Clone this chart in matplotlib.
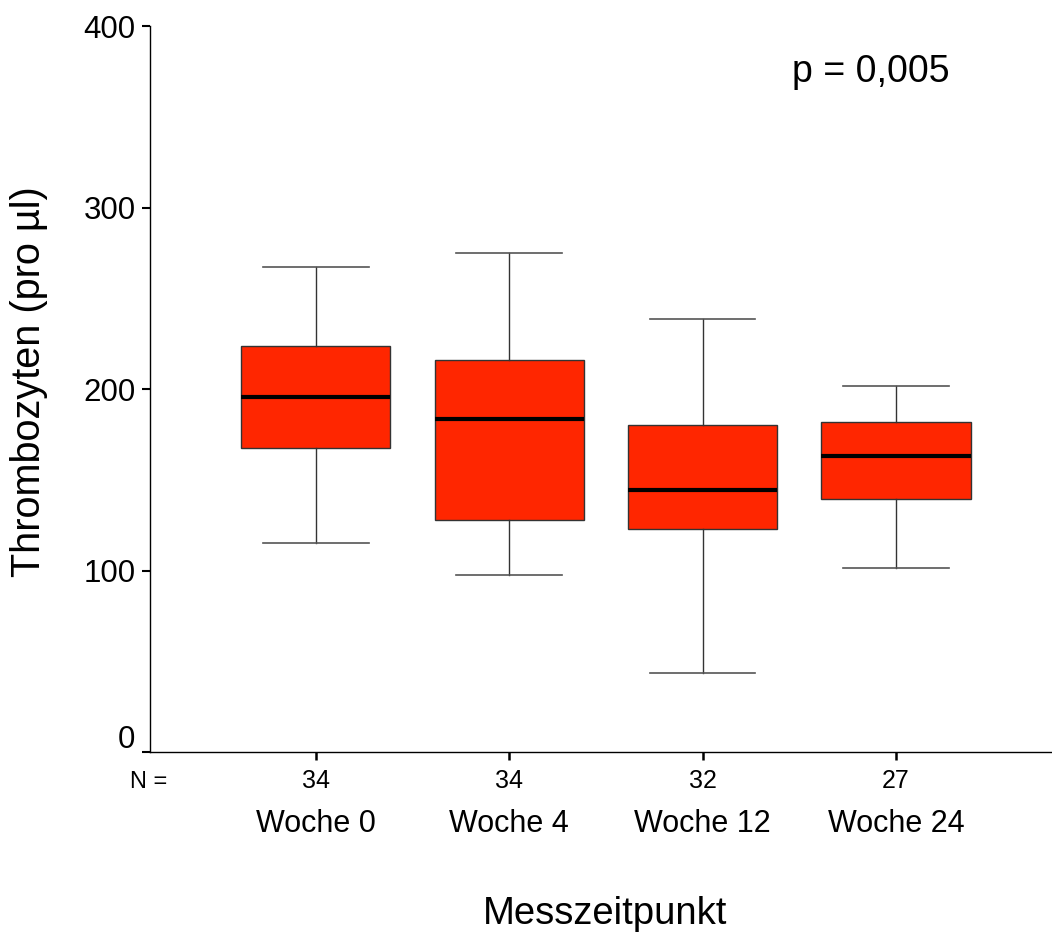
import matplotlib.pyplot as plt
from matplotlib.transforms import ScaledTranslation

plt.rcParams['font.family'] = ['Liberation Sans', 'DejaVu Sans']

# Daten
gruppen = ["Woche 0", "Woche 4", "Woche 12", "Woche 24"]
n_werte = [34, 34, 32, 27]
whisker_unten = [115.5, 97.5, 43.9, 101.7]
q1 = [167.7, 128.0, 122.9, 139.7]
median = [195.6, 183.5, 144.5, 163.1]
q3 = [223.9, 216.1, 180.2, 182.1]
whisker_oben = [267.0, 274.9, 238.6, 202.0]
p_text = "p = 0,005"

positionen = [1, 2, 3, 4]

stats = []
for i, name in enumerate(gruppen):
    stats.append({
        "label": str(n_werte[i]),
        "whislo": whisker_unten[i],
        "q1": q1[i],
        "med": median[i],
        "q3": q3[i],
        "whishi": whisker_oben[i],
        "fliers": [],
    })

fig = plt.figure(figsize=(10.52, 9.41), dpi=100)
ax = fig.add_axes([150 / 1052, 1 - 752.3 / 941, 901 / 1052, 726.3 / 941])

ax.bxp(stats, positions=positionen, widths=0.772, capwidths=0.546,
       patch_artist=True, showfliers=False,
       boxprops=dict(facecolor="#ff2600", edgecolor="#333333", linewidth=1.0),
       whiskerprops=dict(color="#333333", linewidth=1.0),
       capprops=dict(color="#555555", linewidth=1.2),
       medianprops=dict(color="black", linewidth=3.0))

ax.set_xlim(0.143, 4.801)
ax.set_ylim(0, 400)
ax.set_yticks([0, 100, 200, 300, 400])
ax.set_xticks(positionen)
ax.set_xticklabels([str(n) for n in n_werte])

ax.spines["top"].set_visible(False)
ax.spines["right"].set_visible(False)
ax.spines["left"].set_linewidth(1.0)
ax.spines["bottom"].set_linewidth(1.0)

ax.tick_params(axis="y", direction="out", length=5.5, width=1.5, labelsize=22.5, pad=5)
ax.tick_params(axis="x", direction="out", length=6, width=1.8, labelsize=18, pad=6)

# "0" sitzt etwas höher als der Tick
lbl0 = ax.get_yticklabels()[0]
lbl0.set_transform(lbl0.get_transform() + ScaledTranslation(0, 0.16, fig.dpi_scale_trans))

# N = und Gruppennamen
ax.text(-0.002, -0.0415, "N =", transform=ax.transAxes, fontsize=17,
        ha="center", va="center")
for pos, name in zip(positionen, gruppen):
    ax.text(pos, -0.0987, name, transform=ax.get_xaxis_transform(),
            fontsize=22, ha="center", va="center")

ax.set_xlabel("Messzeitpunkt", fontsize=27.5)
ax.xaxis.set_label_coords(0.5056, -0.2226)
ax.xaxis.label.set_va("center")

ax.set_ylabel("Thrombozyten (pro µl)", fontsize=28.5)
ax.yaxis.set_label_coords(-0.1344, 0.511)
ax.yaxis.label.set_va("center")

ax.text(0.8, 0.9367, p_text, transform=ax.transAxes, fontsize=27,
        ha="center", va="center")

fig.savefig("out.png", dpi=100)
